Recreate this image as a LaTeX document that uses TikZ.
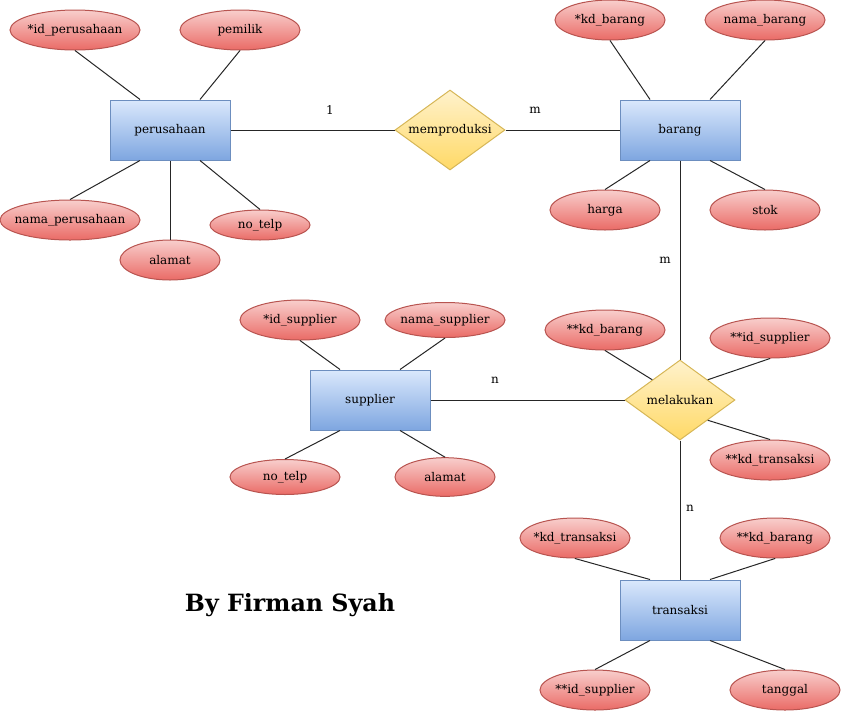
\documentclass[tikz,border=0pt]{standalone}
\usepackage{fontspec}
\setmainfont{DejaVu Serif}
\usetikzlibrary{shapes.geometric,calc}
\newcommand\zw[1]{\makebox[0pt]{#1}}
\begin{document}
\begin{tikzpicture}[x=0.75pt,y=-0.75pt,
  every node/.style={font=\fontsize{9}{11}\selectfont},
  attr/.style={ellipse,draw={rgb,255:red,184;green,84;blue,80},line width=0.75pt,
    top color={rgb,255:red,248;green,206;blue,204},bottom color={rgb,255:red,234;green,107;blue,102},
    inner sep=0pt,minimum width=#1},
  attr/.default=90pt,
  ent/.style={rectangle,draw={rgb,255:red,108;green,142;blue,191},line width=0.75pt,
    top color={rgb,255:red,218;green,232;blue,252},bottom color={rgb,255:red,126;green,166;blue,224},
    minimum width=90pt,minimum height=45pt,inner sep=0pt},
  rel/.style={diamond,draw={rgb,255:red,214;green,182;blue,86},line width=0.75pt,
    top color={rgb,255:red,255;green,242;blue,204},bottom color={rgb,255:red,255;green,217;blue,102},
    minimum width=82.5pt,minimum height=60pt,inner sep=0pt},
  ln/.style={line width=0.75pt,draw=black!85},
  card/.style={inner sep=0pt}]
\useasboundingbox (0,0) rectangle (841,711);

% perusahaan
\node[ent] (perus) at (170,130) {perusahaan};
\node[attr=97.5pt,minimum height=30pt] (idp) at (75,30) {\zw{*id\_perusahaan}};
\node[attr=90pt,minimum height=30pt] (pem) at (240,30) {\zw{pemilik}};
\node[attr=105pt,minimum height=30pt] (namap) at (70,220) {\zw{nama\_perusahaan}};
\node[attr=75pt,minimum height=30pt] (alp) at (170,260) {\zw{alamat}};
\node[attr=75pt,minimum height=22.5pt] (telp) at (260,225) {\zw{no\_telp}};
\draw[ln] (idp.south) -- ($(perus.north)+(-30,0)$);
\draw[ln] (pem.south) -- ($(perus.north)+(30,0)$);
\draw[ln] (namap.north) -- ($(perus.south)+(-30,0)$);
\draw[ln] (alp.north) -- (perus.south);
\draw[ln] (telp.north) -- ($(perus.south)+(30,0)$);

% memproduksi
\node[rel] (memp) at (450,130) {\zw{memproduksi}};

% barang
\node[ent] (bar) at (680,130) {barang};
\node[attr=82.5pt,minimum height=30pt] (kdb) at (610,20) {\zw{*kd\_barang}};
\node[attr=90pt,minimum height=30pt] (namab) at (765,20) {\zw{nama\_barang}};
\node[attr=82.5pt,minimum height=30pt] (harga) at (605,210) {\zw{harga}};
\node[attr=82.5pt,minimum height=30pt] (stok) at (765,210) {\zw{stok}};
\draw[ln] (kdb.south) -- ($(bar.north)+(-30,0)$);
\draw[ln] (namab.south) -- ($(bar.north)+(30,0)$);
\draw[ln] (harga.north) -- ($(bar.south)+(-30,0)$);
\draw[ln] (stok.north) -- ($(bar.south)+(30,0)$);

\draw[ln] (perus.east) -- (memp.west);
\draw[ln] (memp.east) -- (bar.west);
\node[card] (c1) at (330,110) {1};
\node[card] (c2) at (535,110) {m};

% supplier
\node[ent] (sup) at (370,400) {supplier};
\node[attr=90pt,minimum height=30pt] (ids) at (300,320) {\zw{*id\_supplier}};
\node[attr=90pt,minimum height=26.25pt] (namas) at (445,320) {\zw{nama\_supplier}};
\node[attr=82.5pt,minimum height=26.25pt] (telps) at (285,477) {\zw{no\_telp}};
\node[attr=75pt,minimum height=29pt] (als) at (445,477) {\zw{alamat}};
\draw[ln] (ids.south) -- ($(sup.north)+(-30,0)$);
\draw[ln] (namas.south) -- ($(sup.north)+(30,0)$);
\draw[ln] (telps.north) -- ($(sup.south)+(-30,0)$);
\draw[ln] (als.north) -- ($(sup.south)+(30,0)$);

% melakukan
\node[rel] (mel) at (680,400) {\zw{melakukan}};
\node[attr=90pt,minimum height=30pt] (kdb2) at (605,330) {\zw{**kd\_barang}};
\node[attr=90pt,minimum height=30pt] (ids2) at (770,338) {\zw{**id\_supplier}};
\node[attr=90pt,minimum height=30pt] (kdt2) at (770,460) {\zw{**kd\_transaksi}};
\draw[ln] (kdb2.south) -- ($(mel.west)!0.5!(mel.north)$);
\draw[ln] (ids2.south) -- ($(mel.east)!0.5!(mel.north)$);
\draw[ln] (kdt2.north) -- ($(mel.east)!0.5!(mel.south)$);

\draw[ln] (bar.south) -- (mel.north);
\draw[ln] (sup.east) -- (mel.west);
\node[card] (c3) at (665,260) {m};
\node[card] (c4) at (495,380) {n};

% transaksi
\node[ent] (trx) at (680,610) {transaksi};
\node[attr=82.5pt,minimum height=30pt] (kdt) at (575,538) {\zw{*kd\_transaksi}};
\node[attr=82.5pt,minimum height=30pt] (kdb3) at (775,538) {\zw{**kd\_barang}};
\node[attr=82.5pt,minimum height=30pt] (ids3) at (595,690) {\zw{**id\_supplier}};
\node[attr=82.5pt,minimum height=30pt] (tgl) at (785,690) {\zw{tanggal}};
\draw[ln] (kdt.south) -- ($(trx.north)+(-30,0)$);
\draw[ln] (kdb3.south) -- ($(trx.north)+(30,0)$);
\draw[ln] (ids3.north) -- ($(trx.south)+(-30,0)$);
\draw[ln] (tgl.north) -- ($(trx.south)+(30,0)$);

\draw[ln] (mel.south) -- (trx.north);
\node[card] (c5) at (690,508) {n};

% title
\node[font=\bfseries\fontsize{17.8}{21}\selectfont] (title) at (290,605) {By Firman Syah};
\end{tikzpicture}
\end{document}
